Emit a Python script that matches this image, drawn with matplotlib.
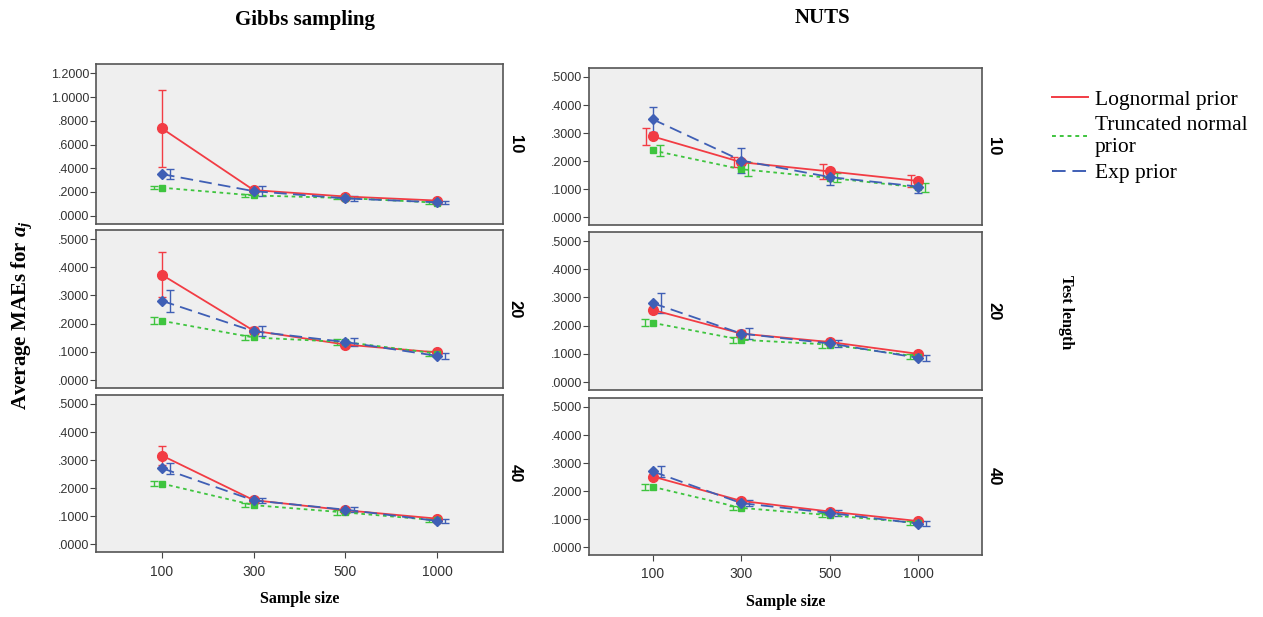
import matplotlib.pyplot as plt
import numpy as np
from matplotlib.ticker import FuncFormatter
from matplotlib.lines import Line2D

plt.rcParams['mathtext.fontset'] = 'custom'
plt.rcParams['mathtext.it'] = 'Liberation Serif:italic:bold'
plt.rcParams['mathtext.rm'] = 'Liberation Serif:bold'

sample_sizes = ['100', '300', '500', '1000']
test_lengths = ['10', '20', '40']
methods = ['Gibbs sampling', 'NUTS']
priors = ['Lognormal prior', 'Truncated normal\nprior', 'Exp prior']

# mean MAE [method][test length][prior] -> 4 sample sizes
means = {
    'Gibbs sampling': {
        '10': [[0.736, 0.216, 0.162, 0.128],
               [0.236, 0.171, 0.149, 0.110],
               [0.351, 0.207, 0.146, 0.113]],
        '20': [[0.373, 0.175, 0.126, 0.098],
               [0.210, 0.151, 0.135, 0.094],
               [0.281, 0.173, 0.135, 0.086]],
        '40': [[0.316, 0.157, 0.121, 0.091],
               [0.216, 0.139, 0.113, 0.085],
               [0.271, 0.156, 0.123, 0.083]],
    },
    'NUTS': {
        '10': [[0.288, 0.196, 0.163, 0.129],
               [0.238, 0.171, 0.140, 0.106],
               [0.349, 0.202, 0.143, 0.109]],
        '20': [[0.256, 0.172, 0.142, 0.100],
               [0.210, 0.150, 0.133, 0.090],
               [0.280, 0.172, 0.137, 0.086]],
        '40': [[0.252, 0.165, 0.127, 0.093],
               [0.215, 0.140, 0.114, 0.086],
               [0.270, 0.157, 0.122, 0.084]],
    },
}
# error bar half-widths, same layout
errors = {
    'Gibbs sampling': {
        '10': [[0.325, 0.022, 0.012, 0.010],
               [0.012, 0.012, 0.010, 0.010],
               [0.045, 0.040, 0.018, 0.013]],
        '20': [[0.080, 0.012, 0.010, 0.008],
               [0.012, 0.010, 0.012, 0.008],
               [0.038, 0.018, 0.014, 0.010]],
        '40': [[0.033, 0.010, 0.008, 0.006],
               [0.010, 0.008, 0.008, 0.006],
               [0.019, 0.010, 0.010, 0.008]],
    },
    'NUTS': {
        '10': [[0.030, 0.018, 0.027, 0.023],
               [0.021, 0.026, 0.016, 0.016],
               [0.045, 0.043, 0.028, 0.024]],
        '20': [[0.010, 0.012, 0.012, 0.008],
               [0.012, 0.010, 0.012, 0.008],
               [0.035, 0.018, 0.013, 0.010]],
        '40': [[0.010, 0.008, 0.008, 0.006],
               [0.010, 0.008, 0.008, 0.006],
               [0.020, 0.010, 0.010, 0.008]],
    },
}

colors = ['#f23c44', '#3ec43e', '#3f5fb5']
markers = ['o', 's', 'D']
msizes = [7, 5, 5.5]
dashes = [(None, None), (2, 2), (7, 3.5)]
err_offsets = [0.0, -0.09, 0.09]

serif = 'Liberation Serif'
sans = 'Liberation Sans'

fig = plt.figure(figsize=(12.63, 6.17), dpi=100)
W, H = 1263, 617


def add_ax(x0, y0, x1, y1):
    return fig.add_axes([x0 / W, 1 - y1 / H, (x1 - x0) / W, (y1 - y0) / H])


col_x = [(96, 503), (589, 982)]
row_y = [[(64, 224), (230, 388), (395, 552)],
         [(68, 225), (232, 390), (398, 555)]]

fmt = FuncFormatter(lambda v, p: ('%.4f' % v).replace('0.', '.', 1) if v < 1 else '%.4f' % v)
xpos = np.arange(len(sample_sizes))

for c, method in enumerate(methods):
    for r, tl in enumerate(test_lengths):
        x0, x1 = col_x[c]
        y0, y1 = row_y[c][r]
        ax = add_ax(x0, y0, x1, y1)
        ax.set_facecolor('#efefef')
        for k in range(3):
            m = np.array(means[method][tl][k])
            e = np.array(errors[method][tl][k])
            off = err_offsets[k]
            if method == 'NUTS' and tl == '10':
                off = [-0.08, 0.08, 0.0][k]
            ax.errorbar(xpos + off, m, yerr=e, fmt='none', ecolor=colors[k],
                        elinewidth=1.0, capsize=3, capthick=1.0, zorder=2)
            line, = ax.plot(xpos, m, color=colors[k], lw=1.3, marker=markers[k],
                            ms=msizes[k], zorder=3 + k)
            if dashes[k][0] is not None:
                line.set_dashes(dashes[k])
        ax.set_xlim(-0.72, 3.72)
        if c == 0 and r == 0:
            ax.set_ylim(-0.07, 1.28)
            ax.set_yticks(np.arange(0, 1.21, 0.2))
        else:
            ax.set_ylim(-0.028, 0.532)
            ax.set_yticks(np.arange(0, 0.51, 0.1))
        ax.yaxis.set_major_formatter(fmt)
        ax.set_xticks(xpos)
        if r == 2:
            ax.set_xticklabels(sample_sizes, family=sans, fontsize=10, color='#333333')
            ax.tick_params(axis='x', length=4, color='#444444', pad=5)
            ax.set_xlabel('Sample size', family=serif, fontweight='bold', fontsize=11.5,
                          labelpad=9)
        else:
            ax.set_xticklabels([])
            ax.tick_params(axis='x', length=0)
        ax.tick_params(axis='y', labelsize=9, labelcolor='#333333', length=4,
                       color='#444444', pad=1)
        for lab in ax.get_yticklabels():
            lab.set_family(sans)
        for s in ax.spines.values():
            s.set_color('#555555')
            s.set_linewidth(1.2)
        ax.text(1.03, 0.5, tl, transform=ax.transAxes, rotation=-90, ha='center',
                va='center', family=sans, fontweight='bold', fontsize=12)

# legend with lines only
leg_handles = []
for k in range(3):
    h = Line2D([], [], color=colors[k], lw=1.4)
    if dashes[k][0] is not None:
        h.set_dashes(dashes[k])
    leg_handles.append(h)
fig.legend(leg_handles, priors, loc='upper left', bbox_to_anchor=(1043 / W, 1 - 81 / H),
           frameon=False, prop={'family': serif, 'size': 15.5}, handlelength=1.7,
           handletextpad=0.3, labelspacing=0.3, borderaxespad=0)

fig.text(305 / W, 1 - 20 / H, 'Gibbs sampling', ha='center', va='center', family=serif,
         fontweight='bold', fontsize=15)
fig.text(822 / W, 1 - 18 / H, 'NUTS', ha='center', va='center', family=serif,
         fontweight='bold', fontsize=15)
fig.text(22 / W, 1 - 315 / H, 'Average MAEs for $a_j$', rotation=90, ha='center',
         va='center', family=serif, fontweight='bold', fontsize=15)
fig.text(1066 / W, 1 - 312 / H, 'Test length', rotation=-90, ha='center', va='center',
         family=serif, fontweight='bold', fontsize=11.5)

fig.savefig('out.png', dpi=100, facecolor='white')
